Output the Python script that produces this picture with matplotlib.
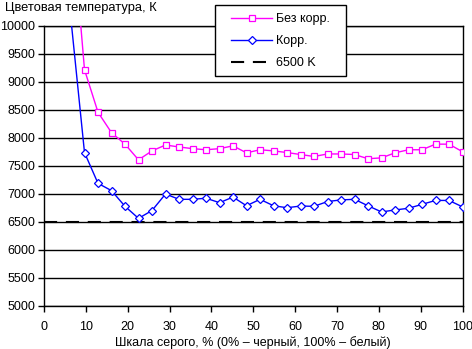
import numpy as np
import matplotlib
matplotlib.use("Agg")
import matplotlib.pyplot as plt
from matplotlib.patches import Rectangle

plt.rcParams['font.family'] = ['Liberation Sans', 'DejaVu Sans']

# gray levels (32 steps, 0..100%)
steps = list(range(2, 32))
x_vals = [k * 100 / 31 for k in steps]

no_corr = [12080, 9220, 8460, 8095, 7890, 7610, 7770, 7875, 7840, 7810, 7790,
           7810, 7860, 7735, 7790, 7770, 7740, 7705, 7670, 7715, 7715, 7705,
           7630, 7645, 7735, 7790, 7790, 7890, 7890, 7755]
corr = [10110, 7740, 7190, 7060, 6780, 6565, 6705, 7000, 6905, 6905, 6925,
        6845, 6945, 6790, 6905, 6790, 6755, 6785, 6780, 6865, 6895, 6905,
        6790, 6680, 6715, 6745, 6815, 6885, 6885, 6770]
ref_x = [0, 100]
ref_y = [6500, 6500]

labels = ["Без корр.", "Корр.", "6500 K"]
y_ticks = list(range(5000, 10001, 500))
x_ticks = list(range(0, 101, 10))

W, H = 472, 349
fig = plt.figure(figsize=(W / 100, H / 100), dpi=100)
ax = fig.add_axes([44 / W, 1 - 306 / H, (462.5 - 44) / W, (306 - 26) / H])

fs = 9
ax.set_xlim(0, 100)
ax.set_ylim(5000, 10000)
ax.set_yticks(y_ticks)
ax.set_xticks(x_ticks)
ax.tick_params(axis='both', direction='out', length=4, width=1, color='black',
               labelsize=fs, pad=2.5)
ax.tick_params(axis='x', pad=7)
ax.yaxis.grid(True, color='black', linewidth=1)
ax.set_axisbelow(True)
for s in ax.spines.values():
    s.set_color('black')
    s.set_linewidth(1)

l3, = ax.plot(ref_x, ref_y, color='black', linewidth=1.5, dashes=(6.3, 4.2),
              zorder=3)
l1, = ax.plot(x_vals, no_corr, color='#FF00FF', linewidth=1, marker='s',
              markersize=5, markerfacecolor='white', markeredgecolor='#FF00FF',
              markeredgewidth=0.9, zorder=4)
l2, = ax.plot(x_vals, corr, color='#0000FF', linewidth=1, marker='D',
              markersize=3.8, markerfacecolor='white', markeredgecolor='#0000FF',
              markeredgewidth=0.9, zorder=4)

ax.set_xlabel("Шкала серого, % (0% – черный, 100% – белый)", fontsize=fs,
              labelpad=2)
fig.text(5 / W, 1 - 8 / H, "Цветовая температура, К", fontsize=9.3,
         ha='left', va='center')

# legend frame drawn separately (Excel-like proportions)
frame = Rectangle((215 / W, 1 - 76 / H), (346 - 215) / W, (76 - 5) / H,
                  transform=fig.transFigure, facecolor='white',
                  edgecolor='black', linewidth=1, zorder=5)
fig.patches.append(frame)

leg = fig.legend([l1, l2, l3], labels, loc='upper left',
                 bbox_to_anchor=(231 / W, 1 - 13 / H), fontsize=fs,
                 frameon=False, handlelength=3.3, handletextpad=0.3,
                 borderpad=0, labelspacing=0.82, borderaxespad=0)
leg.set_zorder(6)

fig.savefig("out.png", dpi=100)
